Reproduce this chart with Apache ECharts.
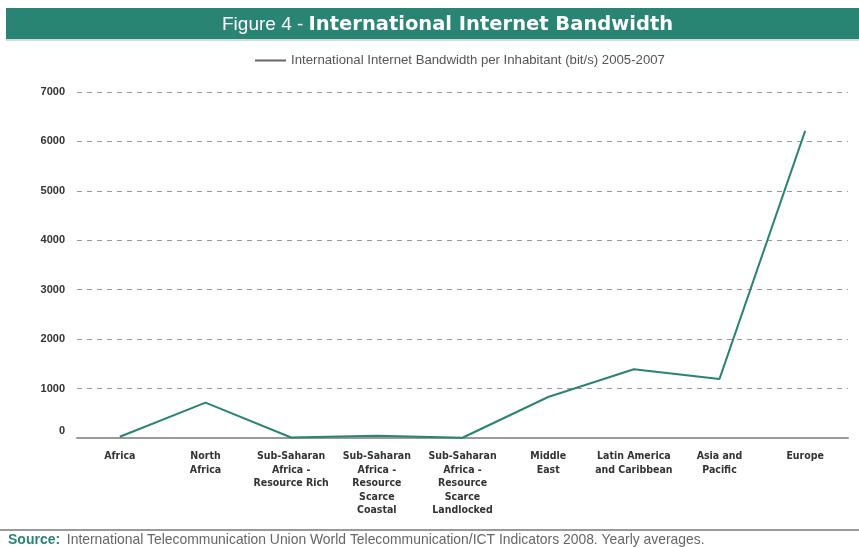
<!DOCTYPE html>
<html>
<head>
<meta charset="utf-8">
<script src="https://cdn.jsdelivr.net/npm/echarts@6/dist/echarts.min.js"></script>
<style>
html,body{margin:0;padding:0;background:#fff;}
#chart{width:859px;height:547px;}
</style>
</head>
<body>
<div id="chart"></div>
<script>
const categories = [
  'Africa',
  'North\nAfrica',
  'Sub-Saharan\nAfrica -\nResource Rich',
  'Sub-Saharan\nAfrica -\nResource\nScarce\nCoastal',
  'Sub-Saharan\nAfrica -\nResource\nScarce\nLandlocked',
  'Middle\nEast',
  'Latin America\nand Caribbean',
  'Asia and\nPacific',
  'Europe'
];
const bandwidthValues = [25, 716, 10, 45, 5, 830, 1390, 1195, 6215];
const yTicks = [0, 1000, 2000, 3000, 4000, 5000, 6000, 7000];
const seriesName = 'International Internet Bandwidth per Inhabitant (bit/s) 2005-2007';

const teal = '#2a8474';
const chart = echarts.init(document.getElementById('chart'));
chart.setOption({
  animation: false,
  backgroundColor: '#fff',
  title: {
    text: '{a|Figure 4 - }{b|International Internet Bandwidth}',
    left: 217,
    top: 10,
    textStyle: {
      fontWeight: 'normal',
      rich: {
        a: { color: '#fff', fontSize: 19, fontWeight: 'normal', fontFamily: 'Liberation Sans, sans-serif' },
        b: { color: '#fff', fontSize: 19.5, fontWeight: 'bold', fontFamily: 'DejaVu Sans, sans-serif' }
      }
    }
  },
  graphic: [
    { type: 'rect', z: -1, shape: { x: 6, y: 8, width: 853, height: 31 }, style: { fill: teal } },
    { type: 'rect', z: -1, shape: { x: 6, y: 39, width: 853, height: 2 }, style: { fill: '#cfe0dc' } },
    { type: 'rect', shape: { x: 0, y: 529, width: 859, height: 2 }, style: { fill: '#9a9a9a' } },
    { type: 'text', left: 8, top: 533, style: {
        text: '{s|Source:}  {t|International Telecommunication Union World Telecommunication/ICT Indicators 2008. Yearly averages.}',
        rich: {
          s: { fill: teal, fontSize: 14, fontWeight: 'bold', fontFamily: 'Liberation Sans, Arial, sans-serif' },
          t: { fill: '#666', fontSize: 13.9, fontFamily: 'Liberation Sans, Arial, sans-serif' }
        }
    } }
  ],
  legend: {
    top: 49,
    left: 250,
    itemWidth: 31,
    itemHeight: 2,
    icon: 'rect',
    itemGap: 8,
    data: [{ name: seriesName, itemStyle: { color: '#666' } }],
    textStyle: { color: '#555', fontSize: 13.2, fontFamily: 'Liberation Sans, Arial, sans-serif' }
  },
  grid: { left: 77, right: 11, top: 92, bottom: 109 },
  xAxis: {
    type: 'category',
    data: categories,
    boundaryGap: true,
    axisLine: { lineStyle: { color: '#999', width: 2 } },
    axisTick: { inside: true, length: 6, lineStyle: { color: '#999', width: 1.5 } },
    axisLabel: {
      interval: 0,
      margin: 12,
      color: '#333',
      fontSize: 10.5,
      fontWeight: 'bold',
      lineHeight: 13.5,
      fontFamily: 'Liberation Sans Narrow, DejaVu Sans Condensed, sans-serif'
    }
  },
  yAxis: {
    type: 'value',
    min: yTicks[0],
    max: yTicks[yTicks.length - 1],
    interval: 1000,
    axisLine: { show: false },
    axisTick: { show: false },
    splitLine: { lineStyle: { color: '#999', type: [5, 5], width: 1 } },
    axisLabel: {
      margin: 12,
      color: '#333',
      fontSize: 11,
      fontWeight: 'bold',
      fontFamily: 'Liberation Sans, Arial, sans-serif',
      formatter: function (v) { return v === 0 ? '{z|0}' : String(v); },
      rich: { z: { fontSize: 11, fontWeight: 'bold', color: '#333', padding: [0, 0, 14, 0] } }
    }
  },
  series: [{
    name: seriesName,
    type: 'line',
    data: bandwidthValues,
    symbol: 'none',
    lineStyle: { color: teal, width: 2 },
    itemStyle: { color: teal }
  }]
});
</script>
</body>
</html>
